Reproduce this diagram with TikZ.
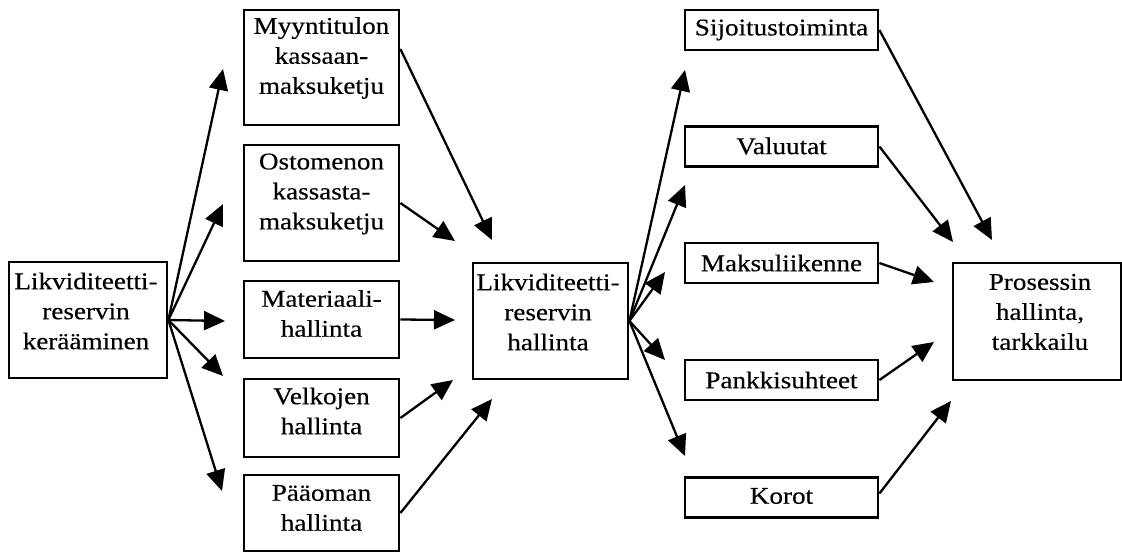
\documentclass[tikz,border=0pt]{standalone}
\usepackage{fontspec}
\setmainfont{Liberation Serif}[FakeStretch=1.13,FakeBold=0.4]
\usetikzlibrary{arrows.meta}
\begin{document}
\begin{tikzpicture}[x=1pt,y=-1pt,
  box/.style={draw, line width=2.8pt, inner sep=0pt},
  txt/.style={align=center, inner sep=0pt, font=\fontsize{24}{30}\selectfont},
  arr/.style={line width=2.3pt, -{Triangle[length=21pt,width=19pt]}}]
\useasboundingbox (0,0) rectangle (1122,554);
% boxes
\node[box, minimum width=158pt, minimum height=116pt] (L) at (88,320) {};
\node[box, minimum width=155pt, minimum height=115pt] (M1) at (321.5,67.5) {};
\node[box, minimum width=155pt, minimum height=116pt] (M2) at (321.5,203) {};
\node[box, minimum width=155pt, minimum height=77pt] (M3) at (321.5,319.5) {};
\node[box, minimum width=155pt, minimum height=78pt] (M4) at (321.5,418) {};
\node[box, minimum width=155pt, minimum height=76pt] (M5) at (321.5,513) {};
\node[box, minimum width=155pt, minimum height=116pt] (C) at (550.5,321) {};
\node[box, minimum width=193pt, minimum height=40pt] (R1) at (781.5,30) {};
\node[box, minimum width=193pt, minimum height=40pt] (R2) at (781.5,146.5) {};
\node[box, minimum width=193pt, minimum height=40pt] (R3) at (781.5,263) {};
\node[box, minimum width=193pt, minimum height=40pt] (R4) at (781.5,380) {};
\node[box, minimum width=193pt, minimum height=40pt] (R5) at (781.5,497.5) {};
\node[box, minimum width=168pt, minimum height=117pt] (P) at (1037,321.5) {};
% texts
\node[txt] (Lt) at (86,311) {Likviditeetti-\\reservin\\kerääminen};
\node[txt] (M1t) at (321.5,58) {Myyntitulon\\kassaan-\\maksuketju};
\node[txt] (M2t) at (321.5,194) {Ostomenon\\kassasta-\\maksuketju};
\node[txt] (M3t) at (321.5,313.5) {Materiaali-\\hallinta};
\node[txt] (M4t) at (321.5,411) {Velkojen\\hallinta};
\node[txt] (M5t) at (321.5,508) {Pääoman\\hallinta};
\node[txt] (Ct) at (548,312) {Likviditeetti-\\reservin\\hallinta};
\node[txt] (R1t) at (781.5,30) {Sijoitustoiminta};
\node[txt] (R2t) at (781.5,146) {Valuutat};
\node[txt] (R3t) at (781.5,263) {Maksuliikenne};
\node[txt] (R4t) at (781.5,380) {Pankkisuhteet};
\node[txt] (R5t) at (781.5,496) {Korot};
\node[txt] (Pt) at (1040,312) {Prosessin\\hallinta,\\tarkkailu};
% arrow tips
\coordinate (t1) at (223,69);
\coordinate (t2) at (223,204);
\coordinate (t3) at (225,321);
\coordinate (t4) at (223,376);
\coordinate (t5) at (222,491);
\coordinate (u1) at (492,240);
\coordinate (u2) at (455,241);
\coordinate (u3) at (455,320);
\coordinate (u4) at (453,380);
\coordinate (u5) at (492,399);
\coordinate (v1) at (685,70);
\coordinate (v2) at (685,185);
\coordinate (v3) at (665,272);
\coordinate (v4) at (665,360);
\coordinate (v5) at (685,456);
\coordinate (w1) at (992,240);
\coordinate (w2) at (953,242);
\coordinate (w3) at (934,282);
\coordinate (w4) at (934,342);
\coordinate (w5) at (951,401);
% connectors
\foreach \t in {t1,t2,t3,t4,t5} \draw[arr] (L.east) -- (\t);
\draw[arr] ([yshift=18.5pt]M1.east) -- (u1);
\draw[arr] (M2.east) -- (u2);
\draw[arr] (M3.east) -- (u3);
\draw[arr] (M4.east) -- (u4);
\draw[arr] (M5.east) -- (u5);
\foreach \t in {v1,v2,v3,v4,v5} \draw[arr] (C.east) -- (\t);
\draw[arr] (R1.east) -- (w1);
\draw[arr] (R2.east) -- (w2);
\draw[arr] (R3.east) -- (w3);
\draw[arr] (R4.east) -- (w4);
\draw[arr] ([yshift=4pt]R5.east) -- (w5);
\end{tikzpicture}
\end{document}
